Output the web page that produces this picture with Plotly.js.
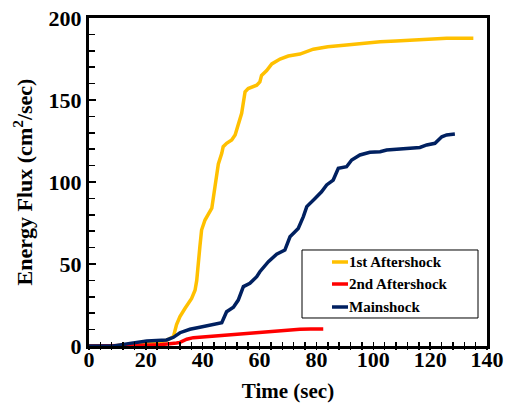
<!DOCTYPE html>
<html>
<head>
<meta charset="utf-8">
<script src="https://cdn.plot.ly/plotly-3.0.1.min.js"></script>
<style>
  html, body { margin: 0; padding: 0; background: #fff; }
  #chart { width: 510px; height: 408px; }
</style>
</head>
<body>
<div id="chart"></div>
<script>
// ---- Data ----
const seriesNames = ["1st Aftershock", "2nd Aftershock", "Mainshock"];

const aft1Time = [0, 5, 10, 15, 20, 24, 27.3, 29.7, 30.8, 32, 33.8, 36.1, 37.3, 37.9, 39, 39.6, 40.8, 42, 43.2, 44.3, 45.5, 46.7, 47.2, 48.4, 50.2, 51.4, 52.5, 53.7, 54.9, 56, 59, 60.1, 60.7, 62.5, 64.3, 67.2, 70.1, 74.2, 78.9, 84, 90.6, 96, 102.4, 108, 114, 120, 125.8, 131, 135.2];
const aft1Flux = [0, 0, 0.3, 0.8, 1.2, 2, 3.5, 5.7, 13, 18, 23, 29, 34, 40, 60.5, 70.7, 76.8, 80, 84, 97, 111, 117.5, 121.5, 123.6, 125.6, 128.7, 135.8, 141.9, 155, 157, 159, 161, 165, 168, 172, 175, 176.8, 178, 181, 182.5, 183.5, 184.6, 185.5, 186, 186.6, 187.1, 187.6, 187.7, 187.7];

const aft2Time = [0, 10, 20, 25, 27.3, 30.8, 32, 34.4, 36.7, 42, 48.4, 54, 60.1, 66, 70, 74.2, 78, 82.4];
const aft2Flux = [0, 0, 0.5, 0.8, 1, 1.8, 2.2, 4.1, 5.1, 5.8, 6.7, 7.4, 8.1, 9.1, 9.8, 10.2, 10.3, 10.4];

const mainTime = [0, 8.6, 14.4, 20.3, 27.3, 29.7, 32, 35.5, 39, 43.7, 46.7, 48.4, 50.8, 52.5, 54.3, 56.6, 59, 60.1, 63.1, 66, 68.9, 70.7, 73.6, 75.4, 76.6, 79.5, 81.8, 83.6, 85.9, 87.7, 90.6, 92.4, 95.3, 98.8, 102.4, 104.7, 110.6, 116.4, 118.8, 121.7, 124.1, 125.8, 128.7];
const mainFlux = [0, 0, 1.6, 3, 3.7, 5.3, 8.1, 10.2, 11.4, 12.8, 14.2, 20.9, 23.6, 28, 36.2, 38.2, 42.3, 45.3, 51.4, 56, 58.5, 66.6, 71.7, 78.9, 85, 90, 94, 98.2, 101.2, 108.4, 109.3, 113.4, 116.5, 118.1, 118.5, 119.5, 120.1, 121.1, 122.6, 123.6, 127.6, 128.7, 129.3];

const xTitle = "Time (sec)";
const yTitle = "Energy Flux (cm<sup>2</sup>/sec)";

const colors = ["#FFC000", "#FF0000", "#002060"];
const FONT = "'Liberation Serif', 'Times New Roman', serif";

const traces = [
  { x: aft1Time, y: aft1Flux, name: seriesNames[0], line: { color: colors[0], width: 3.5 } },
  { x: aft2Time, y: aft2Flux, name: seriesNames[1], line: { color: colors[1], width: 3.5 } },
  { x: mainTime, y: mainFlux, name: seriesNames[2], line: { color: colors[2], width: 3.5 } }
].map(t => Object.assign({ type: "scatter", mode: "lines", hoverinfo: "skip", showlegend: false }, t));

// helper trace so the overlaid tick axis (outer half of the crossing ticks) is drawn
traces.push({ type: "scatter", mode: "lines", x: [0], y: [0], xaxis: "x2", showlegend: false, hoverinfo: "skip", line: { width: 0 } });

// ---- Legend drawn in paper coordinates (box, sample lines, labels) ----
const legBox = { x0: 0.5352, x1: 0.9774, y0: 0.0854, y1: 0.2927 };
const legRows = [0.2561, 0.1890, 0.1189];
const legLineX = [0.6106, 0.6508];
const legTextX = 0.6495;

const shapes = [{
  type: "rect", xref: "paper", yref: "paper",
  x0: legBox.x0, x1: legBox.x1, y0: legBox.y0, y1: legBox.y1,
  line: { color: "#000", width: 1 }, fillcolor: "#fff", layer: "above"
}];
const annotations = [];
seriesNames.forEach((n, i) => {
  shapes.push({
    type: "line", xref: "paper", yref: "paper",
    x0: legLineX[0], x1: legLineX[1], y0: legRows[i], y1: legRows[i],
    line: { color: colors[i], width: 3.5 }, layer: "above"
  });
  annotations.push({
    xref: "paper", yref: "paper", x: legTextX, y: legRows[i],
    xanchor: "left", yanchor: "middle", showarrow: false, text: n,
    font: { family: FONT, size: 15, color: "#000", weight: "bold" }, borderpad: 0
  });
});

const layout = {
  width: 510, height: 408,
  margin: { l: 89, r: 23, t: 18, b: 62 },
  paper_bgcolor: "#fff", plot_bgcolor: "#fff",
  font: { family: FONT, color: "#000", weight: "bold" },
  showlegend: false,
  shapes: shapes,
  annotations: annotations,
  xaxis: {
    range: [0, 140], tick0: 0, dtick: 20,
    showline: true, linewidth: 3, linecolor: "#000", mirror: true,
    ticks: "inside", ticklen: 4, tickwidth: 1.5, tickcolor: "#000",
    minor: { dtick: 4, ticks: "inside", ticklen: 4, tickwidth: 1.5, tickcolor: "#000", showgrid: false },
    showgrid: false, zeroline: false,
    ticklabelstandoff: -8,
    tickfont: { family: FONT, size: 22, color: "#000", weight: "bold" },
    title: { text: xTitle, font: { family: FONT, size: 21, color: "#000", weight: "bold" }, standoff: 12 }
  },
  xaxis2: {
    overlaying: "x", anchor: "y", side: "bottom",
    range: [0, 140], tick0: 0, dtick: 4,
    showline: false, showgrid: false, zeroline: false, showticklabels: false,
    ticks: "outside", ticklen: 3, tickwidth: 1.5, tickcolor: "#000"
  },
  yaxis: {
    range: [0, 200], tick0: 0, dtick: 50,
    showline: true, linewidth: 3, linecolor: "#000", mirror: true,
    ticks: "inside", ticklen: 7, tickwidth: 1.5, tickcolor: "#000",
    minor: { dtick: 10, ticks: "inside", ticklen: 6, tickwidth: 1.5, tickcolor: "#000", showgrid: false },
    showgrid: false, zeroline: false,
    tickfont: { family: FONT, size: 22, color: "#000", weight: "bold" },
    title: { text: yTitle, font: { family: FONT, size: 22, color: "#000", weight: "bold" }, standoff: 10 }
  }
};

Plotly.newPlot("chart", traces, layout, { staticPlot: true, displayModeBar: false });
</script>
</body>
</html>
